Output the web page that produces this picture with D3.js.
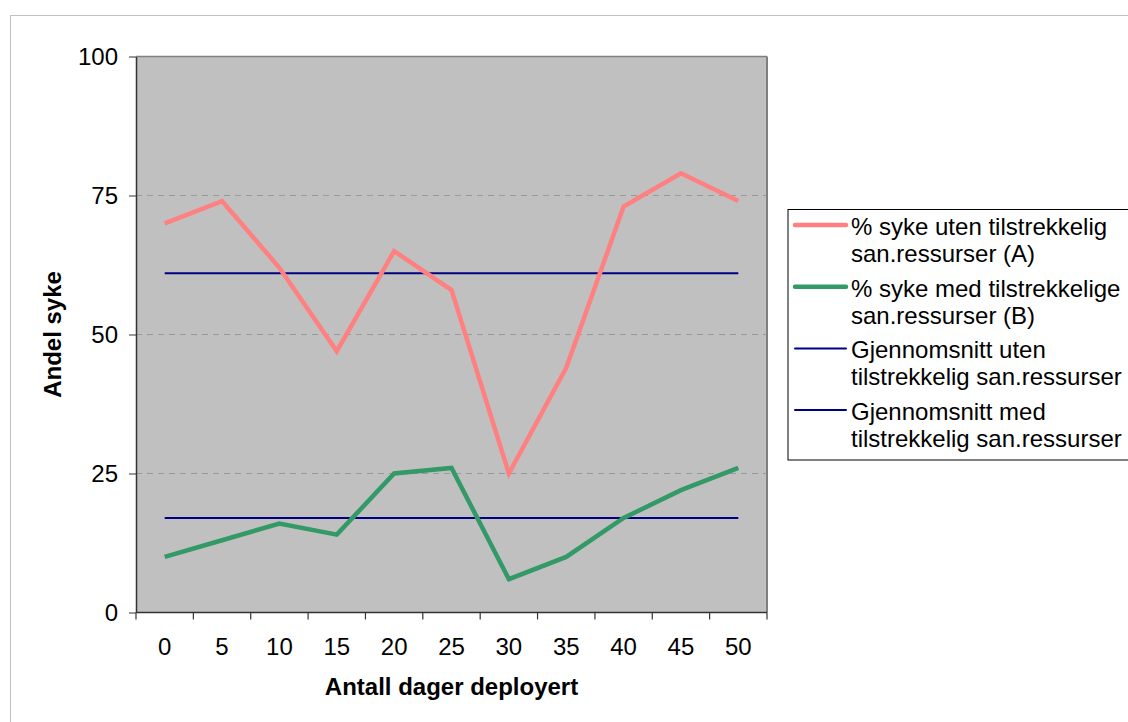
<!DOCTYPE html>
<html>
<head>
<meta charset="utf-8">
<script src="https://cdn.jsdelivr.net/npm/d3@7/dist/d3.min.js"></script>
<style>
  html, body { margin: 0; padding: 0; background: #fff; }
  svg { display: block; font-family: Arial, "Liberation Sans", sans-serif; }
</style>
</head>
<body>
<svg id="chart" width="1128" height="722"></svg>
<script>
// Days deployed (category axis)
const days = [0, 5, 10, 15, 20, 25, 30, 35, 40, 45, 50];
// % sick without sufficient sanitary resources (A)
const sickWithout = [70, 74, 62, 47, 65, 58, 25, 44, 73, 79, 74];
// % sick with sufficient sanitary resources (B)
const sickWith = [10, 13, 16, 14, 25, 26, 6, 10, 17, 22, 26];
// Averages
const avgWithout = [61, 61, 61, 61, 61, 61, 61, 61, 61, 61, 61];
const avgWith = [17, 17, 17, 17, 17, 17, 17, 17, 17, 17, 17];
const yTicks = [0, 25, 50, 75, 100];

const seriesNames = [
  ["% syke uten tilstrekkelig", "san.ressurser (A)"],
  ["% syke med tilstrekkelige", "san.ressurser (B)"],
  ["Gjennomsnitt uten", "tilstrekkelig san.ressurser"],
  ["Gjennomsnitt med", "tilstrekkelig san.ressurser"]
];

const FONT = "Arial, 'Liberation Sans', sans-serif";
const svg = d3.select("#chart");

// chart area frame
svg.append("rect")
  .attr("x", 10.5).attr("y", 15.5)
  .attr("width", 1200).attr("height", 800)
  .attr("fill", "#fff").attr("stroke", "#c0c0c0").attr("stroke-width", 1);

const plot = { left: 136, right: 767, top: 56.5, bottom: 612.5 };

const x = d3.scaleBand().domain(days).range([plot.left, plot.right]).paddingInner(0).paddingOuter(0);
const y = d3.scaleLinear().domain([0, 100]).range([plot.bottom, plot.top]);
const cx = d => x(d) + x.bandwidth() / 2;

// plot background
svg.append("rect")
  .attr("x", plot.left).attr("y", plot.top)
  .attr("width", plot.right - plot.left).attr("height", plot.bottom - plot.top)
  .attr("fill", "#c0c0c0");

// dashed gridlines
svg.append("g").selectAll("line")
  .data(yTicks.filter(t => t > 0 && t < 100))
  .join("line")
  .attr("x1", plot.left).attr("x2", plot.right)
  .attr("y1", d => y(d)).attr("y2", d => y(d))
  .attr("stroke", "#999").attr("stroke-width", 1)
  .attr("stroke-dasharray", "6,5");

// top and right border of plot area
svg.append("line")
  .attr("x1", plot.left).attr("x2", plot.right)
  .attr("y1", plot.top).attr("y2", plot.top)
  .attr("stroke", "#808080").attr("stroke-width", 1.5);
svg.append("line")
  .attr("x1", plot.right).attr("x2", plot.right)
  .attr("y1", plot.top).attr("y2", plot.bottom)
  .attr("stroke", "#808080").attr("stroke-width", 2);

// y axis
const yAxis = svg.append("g")
  .attr("transform", `translate(${plot.left},0)`)
  .call(d3.axisLeft(y).tickValues(yTicks).tickSize(7).tickSizeOuter(0).tickPadding(11));
yAxis.select(".domain").attr("stroke", "#333").attr("stroke-width", 1.5);
yAxis.selectAll(".tick line").attr("stroke", "#333");
yAxis.selectAll("text").attr("font-size", 24).attr("fill", "#000").attr("font-family", FONT);

// x axis: labels at category centres, ticks at category boundaries
const xAxis = svg.append("g")
  .attr("transform", `translate(0,${plot.bottom})`)
  .call(d3.axisBottom(x).tickSize(0).tickSizeOuter(0).tickPadding(25));
xAxis.select(".domain").remove();
xAxis.selectAll("text").attr("font-size", 24).attr("fill", "#000").attr("font-family", FONT);

const boundaries = days.map(d => x(d)).concat([x(days[days.length - 1]) + x.bandwidth()]);
svg.append("g").selectAll("line")
  .data(boundaries)
  .join("line")
  .attr("x1", d => d).attr("x2", d => d)
  .attr("y1", plot.bottom).attr("y2", plot.bottom + 7)
  .attr("stroke", "#333").attr("stroke-width", 1.2);
svg.append("line")
  .attr("x1", plot.left).attr("x2", plot.right)
  .attr("y1", plot.bottom).attr("y2", plot.bottom)
  .attr("stroke", "#333").attr("stroke-width", 1.5);

// series lines
const line = d3.line().x((d, i) => cx(days[i])).y(d => y(d));
const series = [
  { values: avgWithout, color: "#000080", width: 2 },
  { values: avgWith, color: "#000080", width: 2 },
  { values: sickWithout, color: "#ff8080", width: 4.5 },
  { values: sickWith, color: "#339966", width: 4.5 }
];
svg.append("g").selectAll("path")
  .data(series)
  .join("path")
  .attr("d", s => line(s.values))
  .attr("fill", "none")
  .attr("stroke", s => s.color)
  .attr("stroke-width", s => s.width)
  .attr("stroke-linejoin", "miter")
  .attr("stroke-linecap", "butt");

// axis titles
svg.append("text")
  .attr("x", (plot.left + plot.right) / 2).attr("y", 695)
  .attr("text-anchor", "middle")
  .attr("font-size", 24).attr("font-weight", "bold")
  .text("Antall dager deployert");
svg.append("text")
  .attr("transform", `translate(61,${(plot.top + plot.bottom) / 2}) rotate(-90)`)
  .attr("text-anchor", "middle")
  .attr("font-size", 24).attr("font-weight", "bold")
  .text("Andel syke");

// legend
const legend = svg.append("g");
legend.append("rect")
  .attr("x", 788).attr("y", 209.5)
  .attr("width", 400).attr("height", 250.5)
  .attr("fill", "#fff").attr("stroke", "#000").attr("stroke-width", 1);

const legendItems = [
  { color: "#ff8080", width: 4.5 },
  { color: "#339966", width: 4.5 },
  { color: "#000080", width: 2 },
  { color: "#000080", width: 2 }
];
legendItems.forEach((it, i) => {
  const base = 235 + i * 61.7;
  legend.append("line")
    .attr("x1", 795).attr("x2", 846)
    .attr("y1", base - 10).attr("y2", base - 10)
    .attr("stroke", it.color).attr("stroke-width", it.width)
    .attr("stroke-linecap", "round");
  seriesNames[i].forEach((t, j) => {
    legend.append("text")
      .attr("x", 851).attr("y", base + j * 27)
      .attr("font-size", 24)
      .text(t);
  });
});
</script>
</body>
</html>
